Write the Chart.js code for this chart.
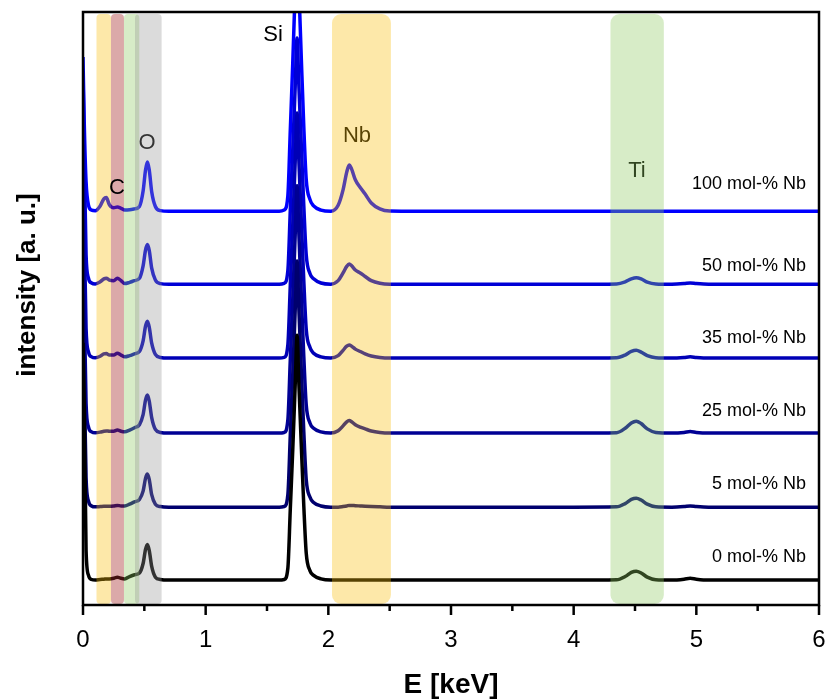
<!DOCTYPE html>
<html>
<head>
<meta charset="utf-8">
<script src="https://cdn.jsdelivr.net/npm/chart.js@4.4.1/dist/chart.umd.min.js"></script>
<style>
  html, body { margin: 0; padding: 0; background: #fff; }
  #wrap { width: 826px; height: 699px; }
</style>
</head>
<body>
<div id="wrap"><canvas id="edx" width="826" height="699"></canvas></div>
<script>
// EDX spectra of the Nb series, stacked with a vertical offset

// energy grid [keV], grouped: edge | C/N/O | gap | Si | Nb | gap | Ti | tail
const energy = [
  0, 0.01, 0.025, 0.045, 0.07, 0.1,
  0.14, 0.17, 0.19, 0.215, 0.25, 0.28, 0.31, 0.34, 0.38, 0.42, 0.46, 0.49, 0.51, 0.525, 0.54, 0.56, 0.59, 0.63, 0.7,
  1.0, 1.4, 1.6,
  1.64, 1.67, 1.69, 1.71, 1.73, 1.745, 1.76, 1.78, 1.8, 1.82, 1.85, 1.88, 1.94, 2.02,
  2.08, 2.12, 2.15, 2.17, 2.19, 2.22, 2.26, 2.3, 2.35, 2.42, 2.5,
  3.0, 3.5, 4.0,
  4.35, 4.42, 4.47, 4.51, 4.55, 4.6, 4.67,
  4.8, 4.9, 4.95, 5.0, 5.1, 5.5, 6.0
];

// intensity above each baseline [a. u.]
const nb0 = [
  40, 30, 5, 0.8, 0.1, 0,
  0.1, 0.15, 0.2, 0.2, 0.3, 0.5, 0.3, 0.2, 0.6, 0.9, 1.2, 2.8, 5.2, 6.0, 5.0, 2.3, 0.5, 0.1, 0,
  0, 0, 0,
  0.1, 2.0, 12, 22, 33, 41.3, 33, 22.5, 12.5, 4.5, 1.6, 0.8, 0.2, 0,
  0, 0, 0, 0, 0, 0, 0, 0, 0, 0, 0,
  0, 0, 0,
  0.05, 0.6, 1.3, 1.5, 1.2, 0.5, 0.05,
  0, 0.15, 0.3, 0.15, 0, 0, 0
];
const nb5 = [
  36, 22, 5, 1.0, 0.2, 0.05,
  0.1, 0.15, 0.15, 0.15, 0.2, 0.3, 0.2, 0.2, 0.5, 0.9, 1.3, 2.7, 4.9, 5.6, 4.7, 2.1, 0.5, 0.1, 0,
  0, 0, 0,
  0.1, 2.1, 12.2, 22.3, 33.3, 41.5, 33.3, 22.8, 12.7, 4.6, 1.7, 0.8, 0.2, 0,
  0, 0.1, 0.2, 0.3, 0.3, 0.25, 0.2, 0.15, 0.1, 0.05, 0,
  0, 0, 0,
  0.05, 0.6, 1.3, 1.5, 1.2, 0.5, 0.05,
  0, 0.1, 0.2, 0.1, 0, 0, 0
];
const nb25 = [
  36, 22, 5, 1.0, 0.2, 0.05,
  0.15, 0.3, 0.35, 0.3, 0.3, 0.5, 0.3, 0.2, 0.5, 0.9, 1.4, 3.1, 5.6, 6.4, 5.4, 2.6, 0.6, 0.1, 0,
  0, 0, 0,
  0.1, 2.2, 12.4, 22.5, 33.5, 41.7, 33.5, 23, 12.9, 4.7, 1.7, 0.8, 0.2, 0,
  0.4, 1.2, 1.9, 2.1, 1.9, 1.4, 1.0, 0.7, 0.35, 0.1, 0,
  0, 0, 0,
  0.05, 0.8, 1.7, 2.0, 1.6, 0.7, 0.1,
  0, 0.1, 0.25, 0.1, 0, 0, 0
];
const nb35 = [
  36, 22, 5, 1.0, 0.2, 0.05,
  0.3, 0.7, 0.75, 0.5, 0.5, 0.8, 0.5, 0.2, 0.4, 0.7, 1.1, 2.9, 5.4, 6.2, 5.2, 2.5, 0.6, 0.1, 0,
  0, 0, 0,
  0.1, 2.2, 12.3, 22.4, 33.2, 41.3, 33.2, 23, 13, 4.8, 1.8, 0.8, 0.2, 0,
  0.4, 1.3, 2.0, 2.2, 2.0, 1.5, 1.1, 0.7, 0.35, 0.1, 0,
  0, 0, 0,
  0.05, 0.5, 1.1, 1.3, 1.0, 0.4, 0.05,
  0, 0.1, 0.2, 0.1, 0, 0, 0
];
const nb50 = [
  36, 22, 5, 1.0, 0.2, 0.05,
  0.4, 0.9, 1.0, 0.7, 0.6, 1.0, 0.6, 0.1, 0.3, 0.6, 1.0, 3.1, 5.8, 6.7, 5.7, 2.7, 0.7, 0.1, 0,
  0, 0, 0,
  0.15, 2.3, 12.5, 22.6, 33.4, 41.5, 33.4, 23.2, 13.2, 4.9, 1.8, 0.9, 0.2, 0,
  0.6, 1.9, 3.0, 3.4, 3.1, 2.4, 1.9, 1.3, 0.6, 0.15, 0,
  0, 0, 0,
  0.05, 0.4, 0.9, 1.1, 0.9, 0.35, 0.05,
  0, 0.1, 0.2, 0.1, 0, 0, 0
];
const nb100 = [
  26, 15, 5, 1.0, 0.2, 0.1,
  0.9, 2.1, 2.3, 1.1, 0.6, 0.7, 0.5, 0.2, 0.25, 0.4, 0.8, 3.4, 7.0, 8.3, 7.0, 3.3, 0.8, 0.1, 0,
  0, 0, 0,
  0.2, 2.6, 13.7, 25, 37.6, 47, 37.6, 25.6, 14.2, 5.3, 2.0, 0.9, 0.2, 0,
  1.0, 3.6, 6.6, 7.8, 7.1, 5.3, 4.0, 2.9, 1.4, 0.4, 0.05,
  0, 0, 0,
  0, 0, 0, 0, 0, 0, 0,
  0, 0, 0, 0, 0, 0, 0
];

const seriesNames = ["0 mol-% Nb", "5 mol-% Nb", "25 mol-% Nb", "35 mol-% Nb", "50 mol-% Nb", "100 mol-% Nb"];
const seriesValues = [nb0, nb5, nb25, nb35, nb50, nb100];
const offsets = [4.2, 16.5, 29.0, 41.65, 54.1, 66.4];
const labelLevels = [8.1, 20.4, 32.7, 45.0, 57.2, 71.0];
const lineColors = ["#000000", "#00006e", "#000094", "#0000b6", "#0000d6", "#0000ff"];

// element windows [keV]
const bandRanges = [[0.11, 0.228], [0.228, 0.334], [0.334, 0.459], [0.424, 0.641], [2.03, 2.51], [4.30, 4.735]];
const bandColors = [
  "rgba(248,190,10,0.35)", "rgba(165,40,40,0.4)", "rgba(140,200,95,0.35)",
  "rgba(150,150,150,0.34)", "rgba(248,190,10,0.35)", "rgba(140,200,95,0.35)"
];

// element labels: name, energy, level
const peakNames = ["O", "Nb", "Ti", "C", "Si"];
const peakEnergy = [0.522, 2.234, 4.516, 0.277, 1.549];
const peakLevel = [77.9, 79.1, 73.2, 70.3, 96.1];

const datasets = seriesValues.map((vals, i) => ({
  label: seriesNames[i],
  data: energy.map((e, k) => ({ x: e, y: vals[k] + offsets[i] })),
  borderColor: lineColors[i],
  borderWidth: 3.5,
  pointRadius: 0,
  cubicInterpolationMode: "monotone",
  fill: false,
}));

const decor = {
  id: "decor",
  afterDatasetsDraw(chart) {
    const { ctx, chartArea: a, scales: { x, y } } = chart;
    ctx.save();
    ctx.textAlign = "center";
    ctx.textBaseline = "middle";
    ctx.font = "22px 'Liberation Sans', Arial, sans-serif";
    ctx.fillStyle = "#000";
    // O, Nb, Ti sit under the shaded windows
    for (let i = 0; i < 3; i++) {
      ctx.fillText(peakNames[i], x.getPixelForValue(peakEnergy[i]), y.getPixelForValue(peakLevel[i]));
    }

    bandRanges.forEach(([lo, hi], i) => {
      const x0 = x.getPixelForValue(lo), x1 = x.getPixelForValue(hi);
      ctx.fillStyle = bandColors[i];
      ctx.beginPath();
      ctx.roundRect(x0, a.top + 2, x1 - x0, a.bottom - a.top - 3, i < 4 ? 4 : 9);
      ctx.fill();
    });

    ctx.fillStyle = "#000";
    for (let i = 3; i < peakNames.length; i++) {
      ctx.fillText(peakNames[i], x.getPixelForValue(peakEnergy[i]), y.getPixelForValue(peakLevel[i]));
    }

    // sample labels on the right
    ctx.font = "18px 'Liberation Sans', Arial, sans-serif";
    ctx.textAlign = "right";
    seriesNames.forEach((n, i) => {
      ctx.fillText(n, x.getPixelForValue(5.894), y.getPixelForValue(labelLevels[i]));
    });

    // frame and x ticks
    ctx.strokeStyle = "#000";
    ctx.lineWidth = 2.5;
    ctx.strokeRect(a.left, a.top, a.right - a.left, a.bottom - a.top);
    for (let v = 0; v <= 6; v += 0.5) {
      const px = x.getPixelForValue(v);
      const len = Number.isInteger(v) ? 10 : 6;
      ctx.beginPath();
      ctx.moveTo(px, a.bottom);
      ctx.lineTo(px, a.bottom + len);
      ctx.stroke();
    }

    // axis titles
    ctx.font = "bold 28px 'Liberation Sans', Arial, sans-serif";
    ctx.textAlign = "center";
    ctx.fillText("E [keV]", (a.left + a.right) / 2, 685);
    ctx.translate(28, 285);
    ctx.rotate(-Math.PI / 2);
    ctx.font = "bold 26px 'Liberation Sans', Arial, sans-serif";
    ctx.fillText("intensity [a. u.]", 0, 0);
    ctx.restore();
  }
};

new Chart(document.getElementById("edx"), {
  type: "line",
  data: { datasets: datasets },
  options: {
    responsive: false,
    animation: false,
    layout: { padding: { top: 12, right: 7, left: 0, bottom: 0 } },
    plugins: { legend: { display: false }, tooltip: { enabled: false } },
    scales: {
      x: {
        type: "linear",
        min: 0,
        max: 6,
        grid: { display: false },
        border: { display: false },
        ticks: {
          stepSize: 1,
          padding: 13,
          color: "#000",
          maxRotation: 0,
          font: { size: 24, family: "'Liberation Sans', Arial, sans-serif" },
        },
        afterFit(scale) {
          scale.height = 94;
          scale.paddingLeft = 0;
          scale.paddingRight = 0;
        },
      },
      y: {
        min: 0,
        max: 100,
        grid: { display: false },
        border: { display: false },
        ticks: { display: false },
        afterFit(scale) { scale.width = 83; },
      },
    },
  },
  plugins: [decor],
});
</script>
</body>
</html>
